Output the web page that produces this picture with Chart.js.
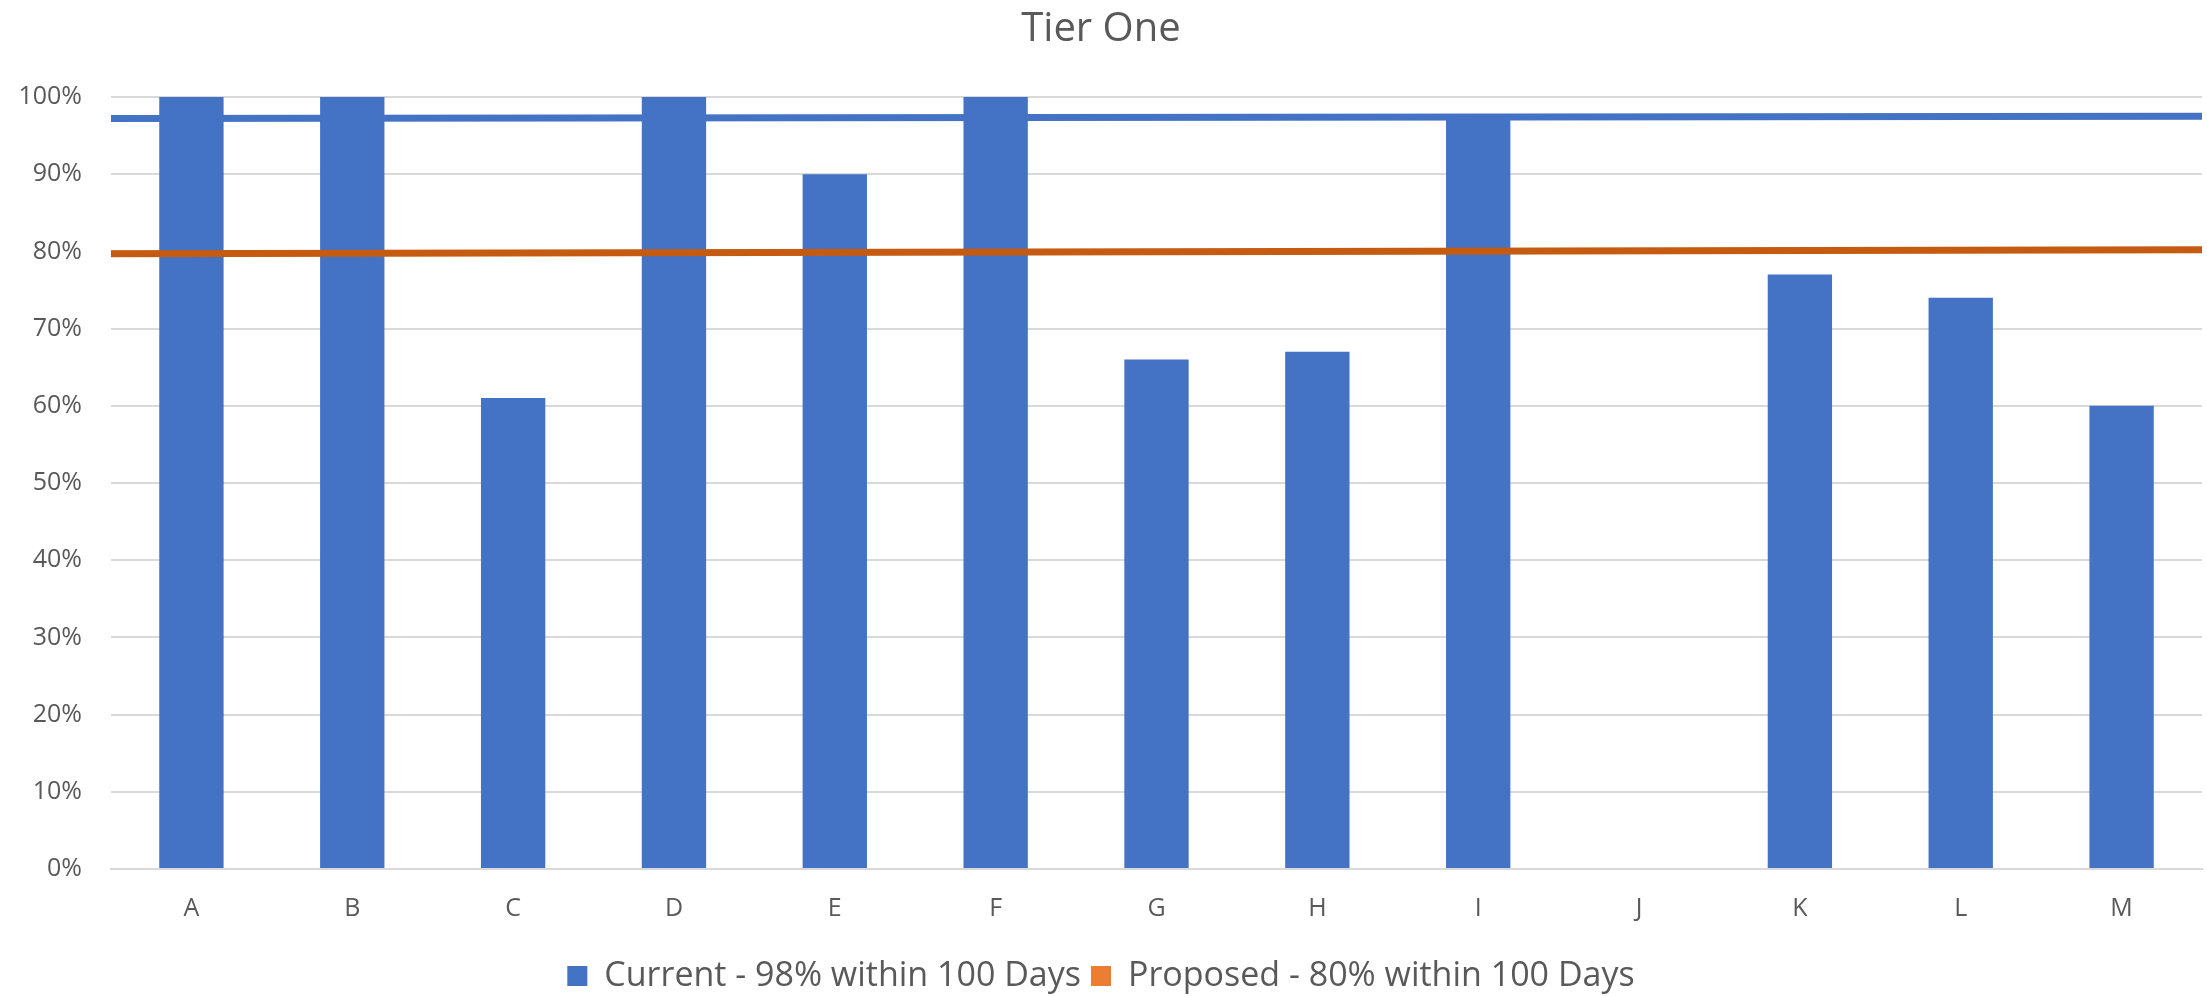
<!DOCTYPE html>
<html>
<head>
<meta charset="utf-8">
<title>Tier One</title>
<script src="https://cdn.jsdelivr.net/npm/chart.js@4.4.1/dist/chart.umd.min.js"></script>
<style>
  html, body { margin: 0; padding: 0; background: #ffffff; }
  #wrap { width: 2207px; height: 996px; }
</style>
</head>
<body>
<div id="wrap"><canvas id="tierChart" width="2207" height="996"></canvas></div>
<script>
/* ---- data ---- */
const categories = ['A','B','C','D','E','F','G','H','I','J','K','L','M'];
const currentValues = [100, 100, 61, 100, 90, 100, 66, 67, 97.4, null, 77, 74, 60];
const currentTarget = [97.2, 97.5];   // left end, right end of the blue target line
const proposedTarget = [79.7, 80.2];  // left end, right end of the orange target line
const yTicks = [0, 10, 20, 30, 40, 50, 60, 70, 80, 90, 100];

const legendLabels = ['Current - 98% within 100 Days', 'Proposed - 80% within 100 Days'];

const COLORS = {
  bar: '#4472C4',
  currentLine: '#4472C4',
  proposedLine: '#C55A11',
  proposedLegend: '#ED7D31',
  grid: '#D9D9D9',
  text: '#595959'
};

const FONT = "'Open Sans', sans-serif";

/* target lines span the whole plot, so they sit on a hidden 0..1 axis */
const toSpan = (pair) => pair.map((v, i) => ({ x: i, y: v }));

new Chart(document.getElementById('tierChart'), {
  type: 'bar',
  data: {
    labels: categories,
    datasets: [
      {
        type: 'bar',
        label: legendLabels[0],
        data: currentValues,
        backgroundColor: COLORS.bar,
        barPercentage: 0.4,
        categoryPercentage: 1.0,
        grouped: false,
        order: 2
      },
      {
        type: 'line',
        label: 'current-target',
        data: toSpan(currentTarget),
        xAxisID: 'x2',
        borderColor: COLORS.currentLine,
        borderWidth: 7,
        pointRadius: 0,
        fill: false,
        order: 1
      },
      {
        type: 'line',
        label: legendLabels[1],
        data: toSpan(proposedTarget),
        xAxisID: 'x2',
        borderColor: COLORS.proposedLine,
        borderWidth: 7,
        pointRadius: 0,
        fill: false,
        order: 1
      }
    ]
  },
  options: {
    responsive: false,
    animation: false,
    devicePixelRatio: 1,
    layout: { padding: { left: 0, right: 5, top: 0, bottom: -7 } },
    plugins: {
      title: {
        display: true,
        text: 'Tier One',
        color: COLORS.text,
        font: { family: FONT, size: 40, weight: 'normal' },
        padding: { top: 6, bottom: 43 }
      },
      legend: {
        position: 'bottom',
        labels: {
          color: COLORS.text,
          font: { family: FONT, size: 34 },
          boxWidth: 20,
          boxHeight: 20,
          padding: 10,
          generateLabels: () => [
            { text: legendLabels[0], fillStyle: COLORS.bar, strokeStyle: COLORS.bar, lineWidth: 0, datasetIndex: 0, fontColor: COLORS.text },
            { text: legendLabels[1], fillStyle: COLORS.proposedLegend, strokeStyle: COLORS.proposedLegend, lineWidth: 0, datasetIndex: 2, fontColor: COLORS.text }
          ]
        }
      },
      tooltip: { enabled: false }
    },
    scales: {
      x: {
        type: 'category',
        offset: true,
        grid: { display: false, drawTicks: false },
        border: { display: true, color: COLORS.grid, width: 2 },
        ticks: { color: COLORS.text, font: { family: FONT, size: 25 }, padding: 25 }
      },
      x2: {
        type: 'linear',
        display: false,
        offset: false,
        grid: { offset: false },
        min: 0,
        max: 1
      },
      y: {
        min: yTicks[0],
        max: yTicks[yTicks.length - 1],
        afterBuildTicks: (scale) => { scale.ticks = yTicks.map(v => ({ value: v })); },
        afterFit: (scale) => { scale.width = 111; },
        grid: { color: COLORS.grid, lineWidth: 2, drawTicks: false },
        border: { display: false },
        ticks: {
          color: COLORS.text,
          font: { family: FONT, size: 25 },
          padding: 29,
          callback: (v) => v + '%'
        }
      }
    }
  }
});
</script>
</body>
</html>
